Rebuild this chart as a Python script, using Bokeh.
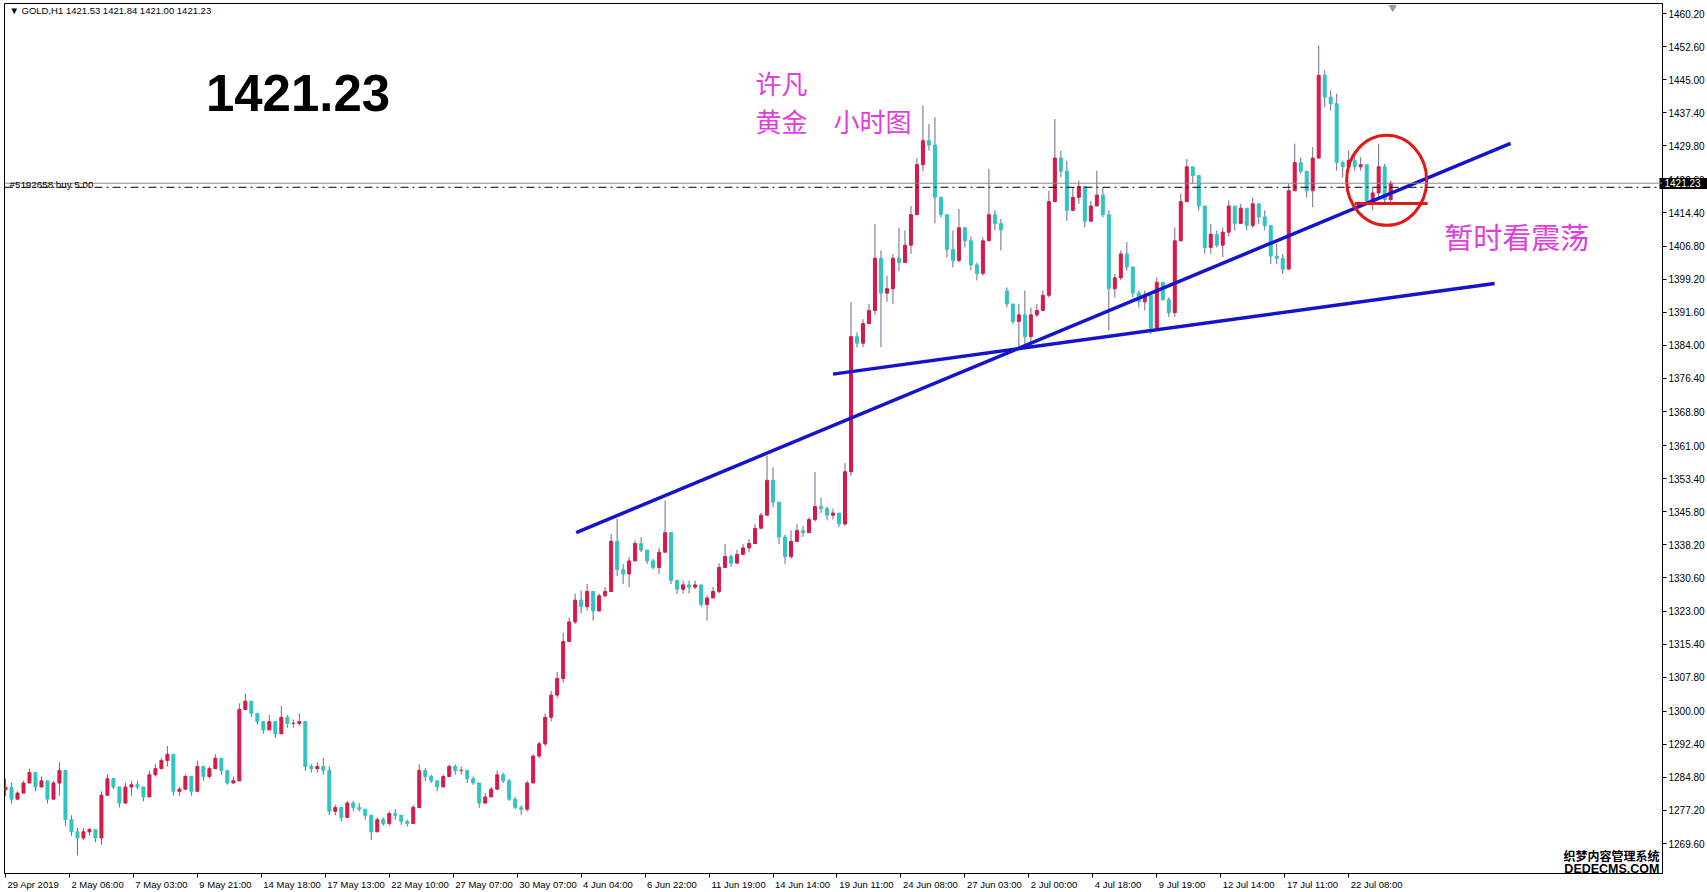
from bokeh.plotting import figure
from bokeh.models import (Range1d, FixedTicker, PrintfTickFormatter, Span, Label,
                          ColumnDataSource, LinearAxis)
from bokeh.embed import file_html
from bokeh.resources import INLINE

# ---------------- data ----------------
HOURS_PER_CANDLE = 6          # each drawn candle summarises ~6 H1 bars
FIRST_OPEN = 1282.0
GAP_OPENS = {167: 1396.5}     # weekend gap (28 Jun -> 1 Jul)

LOWS = [
    1280.5, 1278.8, 1279.8, 1282.1, 1283.5, 1281.6, 1283.1, 1278.8, 1281.1, 1280.6,
    1273.7, 1271.4, 1266.9, 1270.4, 1271.4, 1269.9, 1269.3, 1282.1, 1282.1, 1277.9,
    1278.8, 1280.6, 1282.1, 1279.3, 1282.6, 1285.0, 1286.8, 1287.3, 1280.6, 1280.6,
    1283.1, 1280.6, 1281.6, 1284.0, 1284.5, 1286.8, 1285.4, 1283.1, 1283.5, 1284.0,
    1300.9, 1298.6, 1297.0, 1294.8, 1296.2, 1293.9, 1294.8, 1296.2, 1296.2, 1296.7,
    1286.3, 1285.9, 1285.9, 1285.4, 1276.1, 1276.1, 1274.7, 1275.6, 1277.0, 1277.0,
    1275.1, 1270.4, 1272.3, 1273.7, 1273.7, 1275.1, 1273.9, 1273.5, 1274.2, 1277.9,
    1284.0, 1283.5, 1281.6, 1282.6, 1285.0, 1285.4, 1285.4, 1283.5, 1283.1, 1277.8,
    1279.4, 1280.6, 1282.1, 1283.5, 1279.4, 1277.5, 1276.2, 1277.0, 1283.5, 1289.2,
    1292.0, 1297.6, 1303.0, 1306.5, 1316.0, 1320.0, 1322.4, 1323.1, 1320.8, 1324.6,
    1326.2, 1332.0, 1331.0, 1329.2, 1328.5, 1336.1, 1336.5, 1333.8, 1332.5, 1331.5,
    1336.5, 1329.2, 1326.9, 1327.0, 1327.0, 1328.0, 1323.9, 1320.8, 1326.0, 1327.0,
    1333.0, 1333.1, 1333.8, 1336.1, 1336.5, 1338.4, 1342.0, 1345.0, 1346.8, 1338.4,
    1333.8, 1335.0, 1339.0, 1340.0, 1341.0, 1343.5, 1345.5, 1343.8, 1344.0, 1342.3,
    1342.5, 1354.0, 1383.5, 1383.6, 1388.9, 1391.0, 1383.6, 1394.0, 1393.5, 1401.0,
    1403.0, 1405.0, 1414.0, 1424.0, 1428.7, 1412.0, 1413.4, 1404.2, 1401.9, 1403.0,
    1406.5, 1401.2, 1398.9, 1400.0, 1408.0, 1410.4, 1405.8, 1392.7, 1388.9, 1383.6,
    1384.0, 1383.6, 1390.5, 1392.0, 1395.0, 1417.0, 1422.6, 1412.6, 1415.0, 1416.5,
    1411.1, 1412.5, 1416.0, 1413.4, 1387.4, 1395.0, 1399.0, 1401.2, 1395.0, 1392.7,
    1392.0, 1386.6, 1388.0, 1394.3, 1390.5, 1390.5, 1408.0, 1417.0, 1421.1, 1414.9,
    1405.0, 1405.0, 1406.5, 1404.3, 1409.0, 1410.4, 1412.0, 1410.4, 1411.0, 1411.9,
    1410.4, 1402.7, 1402.7, 1400.4, 1401.5, 1419.5, 1423.4, 1418.0, 1415.7, 1427.0,
    1438.7, 1437.9, 1424.1, 1422.6, 1424.1, 1424.1, 1424.1, 1416.5, 1415.0, 1418.0,
    1416.5, 1416.5,
]
HIGHS = [
    1284.5, 1283.6, 1281.6, 1284.0, 1286.8, 1285.4, 1285.0, 1283.6, 1284.0, 1288.3,
    1286.4, 1276.1, 1273.2, 1273.2, 1273.2, 1271.9, 1281.6, 1285.5, 1284.5, 1282.6,
    1283.6, 1284.0, 1284.0, 1282.6, 1286.3, 1287.8, 1289.2, 1292.0, 1290.1, 1282.6,
    1285.4, 1285.0, 1288.7, 1287.3, 1287.3, 1290.1, 1288.7, 1286.4, 1285.0, 1301.8,
    1304.0, 1302.3, 1299.5, 1297.6, 1299.1, 1297.6, 1301.2, 1299.1, 1298.1, 1299.5,
    1297.6, 1287.8, 1288.2, 1289.3, 1287.3, 1278.5, 1277.9, 1279.4, 1279.4, 1278.9,
    1277.5, 1276.1, 1275.6, 1275.6, 1277.0, 1277.5, 1276.1, 1275.1, 1278.5, 1287.8,
    1286.9, 1285.4, 1284.0, 1285.4, 1287.8, 1287.8, 1287.3, 1286.4, 1285.0, 1283.5,
    1281.2, 1282.6, 1286.4, 1285.9, 1284.5, 1280.3, 1278.4, 1284.0, 1290.1, 1293.0,
    1299.5, 1304.7, 1309.0, 1318.0, 1321.5, 1327.0, 1327.7, 1329.2, 1326.2, 1327.0,
    1328.5, 1340.7, 1344.2, 1333.8, 1335.4, 1339.2, 1340.0, 1336.5, 1335.0, 1337.5,
    1348.4, 1341.0, 1330.0, 1330.0, 1330.0, 1330.0, 1329.0, 1326.5, 1328.5, 1334.0,
    1338.4, 1336.0, 1337.0, 1338.4, 1339.5, 1343.0, 1345.5, 1358.7, 1356.0, 1348.0,
    1340.5, 1341.5, 1343.0, 1342.5, 1344.5, 1354.9, 1349.0, 1347.0, 1346.5, 1345.0,
    1357.0, 1394.0, 1387.0, 1390.0, 1393.5, 1411.9, 1405.8, 1400.0, 1405.0, 1411.0,
    1410.4, 1416.0, 1427.0, 1439.1, 1434.8, 1436.4, 1418.0, 1414.0, 1410.4, 1415.3,
    1411.0, 1409.0, 1403.0, 1408.8, 1424.5, 1415.0, 1413.0, 1397.3, 1393.5, 1393.5,
    1396.6, 1392.7, 1393.5, 1396.6, 1419.5, 1436.0, 1428.7, 1426.4, 1420.3, 1421.8,
    1420.5, 1417.2, 1424.1, 1420.3, 1415.0, 1400.4, 1405.8, 1407.7, 1402.0, 1396.6,
    1396.6, 1395.5, 1399.6, 1398.5, 1395.0, 1411.1, 1418.8, 1426.8, 1425.0, 1423.0,
    1416.0, 1411.9, 1410.4, 1411.0, 1417.3, 1416.0, 1416.5, 1415.5, 1418.0, 1416.5,
    1415.0, 1411.5, 1407.3, 1405.0, 1421.1, 1430.3, 1427.2, 1424.0, 1429.5, 1452.9,
    1447.1, 1442.5, 1441.8, 1426.4, 1428.7, 1428.7, 1427.2, 1425.5, 1420.3, 1430.3,
    1425.7, 1421.9,
]
CLOSES = [
    1282.5, 1279.8, 1281.2, 1283.5, 1285.9, 1282.6, 1284.0, 1279.8, 1283.5, 1286.4,
    1275.1, 1272.3, 1270.9, 1272.3, 1272.8, 1270.9, 1280.7, 1284.5, 1282.6, 1278.9,
    1282.6, 1283.1, 1282.6, 1280.3, 1285.4, 1286.8, 1288.7, 1290.1, 1281.6, 1282.1,
    1285.0, 1281.6, 1287.3, 1285.0, 1286.8, 1289.2, 1286.4, 1283.5, 1284.0, 1300.4,
    1302.3, 1299.5, 1297.6, 1295.7, 1297.6, 1294.8, 1298.6, 1297.2, 1297.2, 1297.6,
    1287.3, 1286.8, 1287.3, 1286.4, 1277.0, 1277.9, 1275.6, 1278.9, 1277.9, 1277.5,
    1276.1, 1272.3, 1275.1, 1274.2, 1276.5, 1276.1, 1274.7, 1274.2, 1277.9, 1286.4,
    1285.0, 1284.0, 1282.6, 1285.0, 1287.3, 1286.4, 1286.4, 1284.5, 1283.5, 1278.9,
    1280.3, 1282.1, 1285.4, 1284.0, 1279.8, 1277.9, 1277.5, 1283.5, 1289.7, 1292.5,
    1298.6, 1303.7, 1307.5, 1316.0, 1320.5, 1325.5, 1324.0, 1327.5, 1323.0, 1326.5,
    1327.5, 1339.0, 1332.5, 1331.5, 1334.5, 1338.5, 1337.0, 1334.5, 1333.0, 1336.5,
    1341.0, 1330.0, 1328.0, 1329.0, 1328.5, 1329.0, 1324.5, 1326.0, 1327.5, 1333.0,
    1335.5, 1334.0, 1336.0, 1337.5, 1338.5, 1342.0, 1345.0, 1353.0, 1348.0, 1340.0,
    1335.5, 1339.0, 1341.5, 1341.0, 1344.0, 1347.0, 1346.5, 1345.0, 1345.5, 1343.0,
    1355.0, 1386.0, 1384.5, 1389.0, 1392.0, 1404.0, 1396.0, 1397.0, 1404.0, 1403.0,
    1407.0, 1414.0, 1425.5, 1431.0, 1430.0, 1418.0, 1414.0, 1406.0, 1403.5, 1411.0,
    1408.0, 1402.5, 1400.5, 1408.0, 1414.0, 1412.0, 1410.5, 1393.5, 1389.5, 1391.0,
    1386.0, 1391.0, 1392.0, 1395.5, 1417.0, 1427.0, 1424.0, 1415.0, 1418.0, 1420.5,
    1412.5, 1416.0, 1418.5, 1414.0, 1397.0, 1399.5, 1405.0, 1402.0, 1396.0, 1394.0,
    1395.5, 1388.0, 1398.5, 1394.5, 1391.5, 1408.0, 1417.0, 1425.0, 1423.0, 1416.0,
    1406.5, 1409.5, 1407.0, 1410.0, 1416.0, 1412.0, 1415.5, 1411.5, 1416.5, 1413.5,
    1411.5, 1404.5, 1404.0, 1401.5, 1419.5, 1426.0, 1424.0, 1419.5, 1427.0, 1446.0,
    1441.0, 1439.5, 1426.0, 1425.0, 1426.5, 1425.0, 1425.5, 1417.0, 1419.0, 1425.0,
    1417.5, 1421.23,
]

X_TICK_LABELS = [
    "29 Apr 2019", "2 May 06:00", "7 May 03:00", "9 May 21:00", "14 May 18:00",
    "17 May 13:00", "22 May 10:00", "27 May 07:00", "30 May 07:00", "4 Jun 04:00",
    "6 Jun 22:00", "11 Jun 19:00", "14 Jun 14:00", "19 Jun 11:00", "24 Jun 08:00",
    "27 Jun 03:00", "2 Jul 00:00", "4 Jul 18:00", "9 Jul 19:00", "12 Jul 14:00",
    "17 Jul 11:00", "22 Jul 08:00",
]
HOURS_PER_LABEL = 64
Y_TICKS = [1269.60, 1277.20, 1284.80, 1292.40, 1300.00, 1307.80, 1315.40, 1323.00,
           1330.60, 1338.20, 1345.80, 1353.40, 1361.00, 1368.80, 1376.40, 1384.00,
           1391.60, 1399.20, 1406.80, 1414.40, 1422.00, 1429.80, 1437.40, 1445.00,
           1452.60, 1460.20]

BID = 1421.23
ORDER_PRICE = 1420.30
HEADER = "\u25bc GOLD,H1  1421.53 1421.84 1421.00 1421.23"

# trend lines: (hour index, price) start / end
TREND_X0 = [572, 829]
TREND_Y0 = [1341.0, 1377.4]
TREND_X1 = [1507, 1491]
TREND_Y1 = [1430.4, 1398.2]
CIRCLE_X, CIRCLE_Y = 1383, 1421.9
SUPPORT_X0, SUPPORT_X1, SUPPORT_Y = 1351, 1424, 1416.6

UP, DOWN, WICK = "#d81848", "#30c4c4", "#6c6c88"
MAGENTA = "#e03ce0"
AXIS_FONT = "Liberation Sans"

# ---------------- figure ----------------
p = figure(width=1707, height=892, output_backend="svg", toolbar_location=None,
           x_range=Range1d(0, 1659), y_range=Range1d(1262.73, 1462.5),
           y_axis_location="right",
           min_border_left=4, min_border_top=3, min_border_right=0, min_border_bottom=0)
p.background_fill_color = "white"
p.border_fill_color = "white"
p.outline_line_color = "black"
p.outline_line_width = 1
p.grid.visible = False

n = len(CLOSES)
xs = [1 + HOURS_PER_CANDLE * i for i in range(n)]
opens = [FIRST_OPEN] + CLOSES[:-1]
for k, v in GAP_OPENS.items():
    opens[k] = v
tops = [max(o, c) for o, c in zip(opens, CLOSES)]
bots = [min(o, c) for o, c in zip(opens, CLOSES)]
his = [max(h, t) for h, t in zip(HIGHS, tops)]
los = [min(l, b) for l, b in zip(LOWS, bots)]
cols = [UP if c >= o else DOWN for o, c in zip(opens, CLOSES)]
src = ColumnDataSource(dict(x=xs, top=tops, bottom=bots, high=his, low=los, color=cols))

p.segment(x0="x", y0="low", x1="x", y1="high", source=src, line_color=WICK, line_width=1)
p.vbar(x="x", width=3, top="top", bottom="bottom", source=src,
       fill_color="color", line_color="color", line_width=1)

# price lines
p.add_layout(Span(location=BID, dimension="width", line_color="#8a8a8a", line_width=1))
p.add_layout(Span(location=ORDER_PRICE, dimension="width", line_color="black",
                  line_width=1, line_dash="8 4 2 4"))

# trend lines and annotations
p.segment(x0=TREND_X0, y0=TREND_Y0, x1=TREND_X1, y1=TREND_Y1,
          line_color="#1414cc", line_width=3.5)
p.segment(x0=[SUPPORT_X0], y0=[SUPPORT_Y], x1=[SUPPORT_X1], y1=[SUPPORT_Y],
          line_color="#e01818", line_width=3)
p.ellipse(x=[CIRCLE_X], y=[CIRCLE_Y], width=80, height=90,
          width_units="screen", height_units="screen",
          fill_color=None, line_color="#e01818", line_width=3)
p.scatter(x=[1389], y=[1461.6], marker="inverted_triangle", size=7,
          fill_color="#9a9a9a", line_color="#9a9a9a")

# texts
p.add_layout(Label(x=5, y=1462.15, text=HEADER, text_baseline="top",
                   text_font=AXIS_FONT, text_font_size="9.5px", text_color="black"))
p.add_layout(Label(x=5, y=1422.2, text="#5192658 buy 5.00", text_baseline="top",
                   text_font=AXIS_FONT, text_font_size="9.8px", text_color="black"))
p.add_layout(Label(x=201.5, y=1446.05, text="1421.23", text_baseline="top",
                   text_font=AXIS_FONT, text_font_size="51px", text_font_style="bold",
                   text_color="black"))
p.add_layout(Label(x=751.5, y=1448.7, text="许凡", text_baseline="top",
                   text_font="Noto Sans CJK SC", text_font_size="26px", text_color=MAGENTA))
p.add_layout(Label(x=751.5, y=1439.8, text="黄金\u3000小时图", text_baseline="top",
                   text_font="Noto Sans CJK SC", text_font_size="26px", text_color=MAGENTA))
p.add_layout(Label(x=1440.5, y=1413.9, text="暂时看震荡", text_baseline="top",
                   text_font="Noto Sans CJK SC", text_font_size="29px", text_color=MAGENTA))
p.add_layout(Label(x=1656, y=1268.9, text="织梦内容管理系统", text_baseline="top",
                   text_align="right", text_font="Noto Sans CJK SC", text_font_size="12px",
                   text_font_style="bold", text_color="black"))
p.add_layout(Label(x=1656, y=1265.4, text="DEDECMS.COM", text_baseline="top",
                   text_align="right", text_font=AXIS_FONT, text_font_size="12.5px",
                   text_font_style="bold", text_color="black"))

# ---------------- axes ----------------
# bottom axis: tick marks at the label times (minor ticks), each label placed to the right of its tick
CHAR_EM = {" ": 0.278, ":": 0.278, "A": 0.667, "p": 0.556, "r": 0.333, "M": 0.833,
           "a": 0.556, "y": 0.5, "J": 0.5, "u": 0.556, "n": 0.556, "l": 0.222}
X_LABEL_SIZE = 9.5
x_ticks = [1 + HOURS_PER_LABEL * k for k in range(len(X_TICK_LABELS))]
label_centres = [round(t + 2 + sum(CHAR_EM.get(ch, 0.556) for ch in s) * X_LABEL_SIZE / 2, 1)
                 for t, s in zip(x_ticks, X_TICK_LABELS)]

xa = p.xaxis[0]
xa.ticker = FixedTicker(ticks=label_centres, minor_ticks=x_ticks)
xa.major_label_overrides = dict(zip(label_centres, X_TICK_LABELS))
xa.major_tick_line_color = None
xa.major_tick_in = 0
xa.major_tick_out = 0
xa.minor_tick_line_color = "black"
xa.minor_tick_in = 0
xa.minor_tick_out = 4
xa.major_label_standoff = 1
xa.axis_line_color = "black"
xa.major_label_text_font = AXIS_FONT
xa.major_label_text_font_size = f"{X_LABEL_SIZE}px"
xa.major_label_text_color = "black"

ya = p.yaxis[0]
ya.ticker = FixedTicker(ticks=Y_TICKS)
ya.formatter = PrintfTickFormatter(format="%.2f")
ya.major_tick_in = 0
ya.major_tick_out = 4
ya.major_label_standoff = 2
ya.minor_tick_line_color = None
ya.axis_line_color = "black"
ya.major_label_text_font = AXIS_FONT
ya.major_label_text_font_size = "10px"
ya.major_label_text_color = "black"

# current-price marker on the price scale (black box with white text)
price_axis = LinearAxis(ticker=FixedTicker(ticks=[BID]),
                        formatter=PrintfTickFormatter(format="%.2f"),
                        axis_line_color=None, minor_tick_line_color=None,
                        major_tick_in=48, major_tick_out=0,
                        major_tick_line_width=11, major_tick_line_color="black",
                        major_label_standoff=-43,
                        major_label_text_font=AXIS_FONT, major_label_text_font_size="10px",
                        major_label_text_color="white")
p.add_layout(price_axis, "right")

open("out.html", "w").write(file_html(p, INLINE))
